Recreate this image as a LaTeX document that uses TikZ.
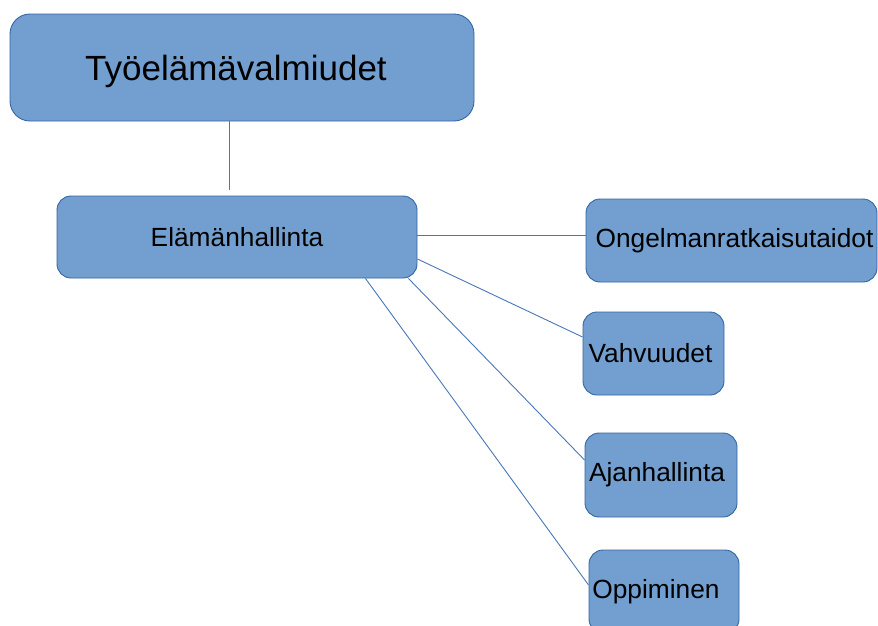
\documentclass[tikz,border=0pt]{standalone}
\usepackage{fontspec}
\setmainfont{Liberation Sans}
\usetikzlibrary{calc}
\definecolor{boxfill}{HTML}{729FCF}
\definecolor{boxline}{HTML}{3465A4}
\definecolor{linkcol}{HTML}{4A76B6}
\begin{document}
\begin{tikzpicture}[x=1pt,y=-1pt,
  box/.style={draw=boxline, fill=boxfill, rounded corners=14pt, line width=0.9pt,
    inner sep=0pt, text=black, font=\fontsize{26.3}{30}\selectfont},
  link/.style={draw=linkcol, line width=0.9pt}]
\useasboundingbox (0,0) rectangle (878,625);
\begin{scope}
\clip (0,0) rectangle (878,625);
\node[box, minimum width=464pt, minimum height=107pt, rounded corners=20pt,
  font=\fontsize{35}{40}\selectfont] (top) at (242,67.5)
  {\vphantom{Työelämävalmiudet}\smash{\raisebox{-4pt}{Työelämävalmiudet}}\hspace*{12pt}};
\node[box, minimum width=360pt, minimum height=82pt] (el) at (237,237) {Elämänhallinta};
\node[box, minimum width=291pt, minimum height=83pt] (ong) at (731.5,240.5) {\hspace*{6pt}Ongelmanratkaisutaidot};
\node[box, minimum width=141pt, minimum height=83pt] (vah) at (653.5,353.5) {Vahvuudet\hspace*{6pt}};
\node[box, minimum width=152pt, minimum height=84pt] (aj) at (661,475) {Ajanhallinta\hspace*{8pt}};
\node[box, minimum width=150pt, minimum height=83pt] (op) at (664,591.5) {Oppiminen\hspace*{16pt}};
\coordinate (stem) at (229,190);
\draw[link] (top.south -| stem) -- (stem);
\draw[link] ($(el.east)+(0,-2)$) -- ($(ong.west)+(0,-5.5)$);
\draw[link] ($(el.east)+(0,22)$) -- ($(vah.west)+(0,-16.5)$);
\draw[link] ($(el.south east)+(-9,0)$) -- ($(aj.west)+(0,-15)$);
\draw[link] ($(el.south east)+(-52,0)$) -- ($(op.west)+(0,-6.5)$);
\end{scope}
\end{tikzpicture}
\end{document}
